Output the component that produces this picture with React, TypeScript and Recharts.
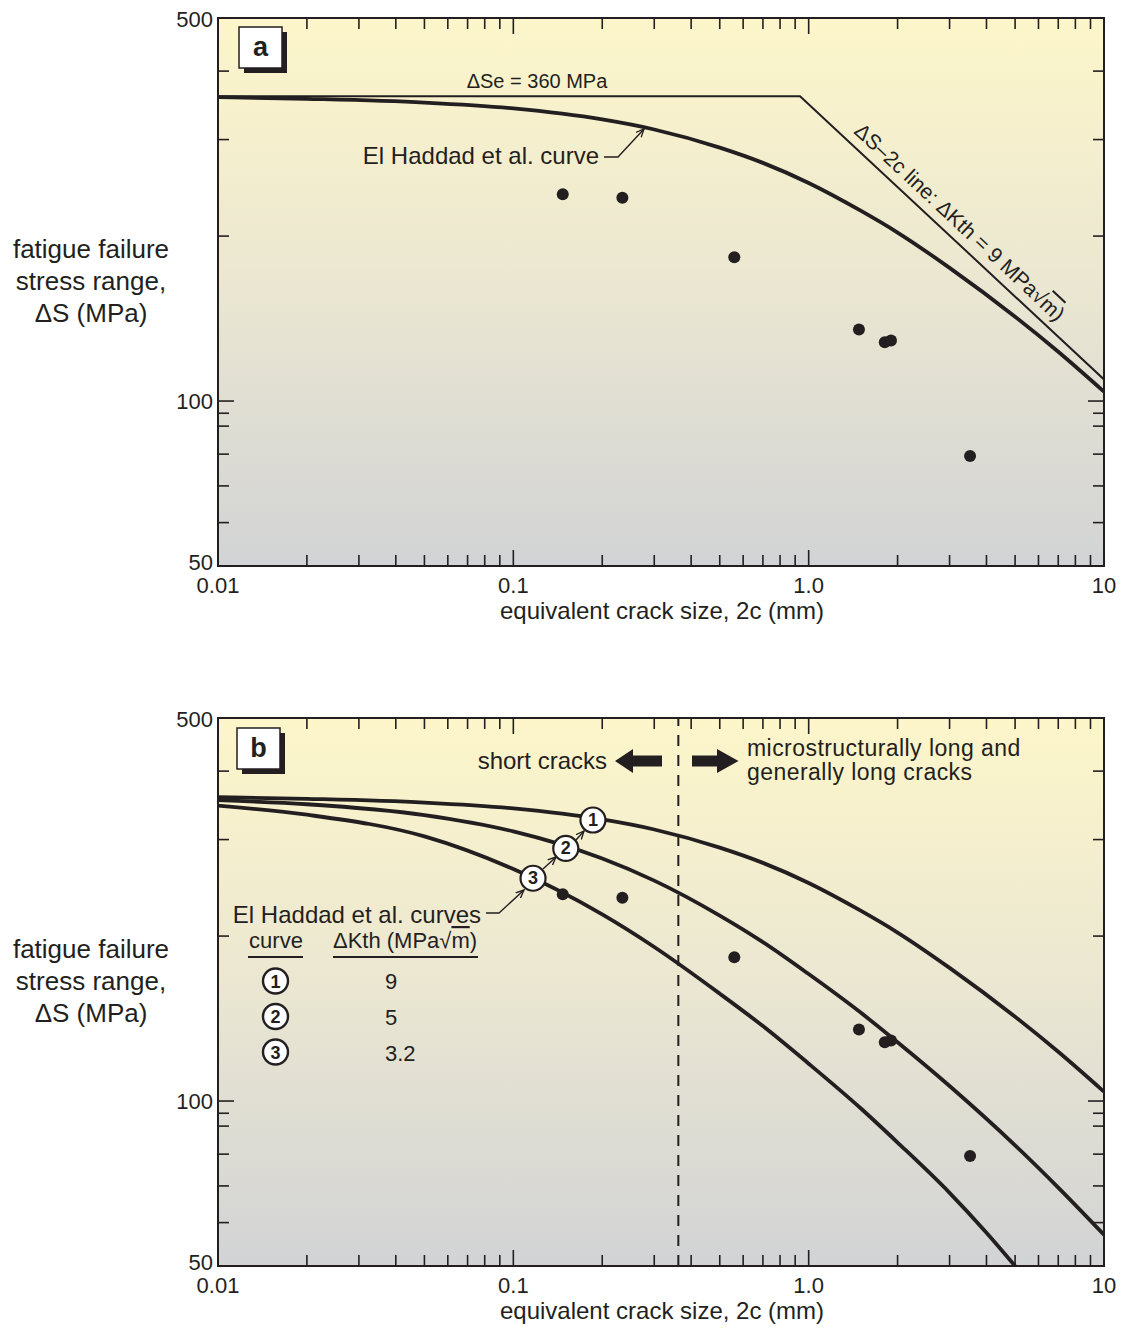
import React from "react";
import {
  CartesianGrid,
  ComposedChart,
  Line,
  ReferenceLine,
  Scatter,
  XAxis,
  YAxis,
} from "recharts";

const INK = "#231f20";
const FONT = '"Liberation Sans", Arial, Helvetica, sans-serif';

// measured fatigue failures: equivalent crack size 2c (mm) vs stress range (MPa)
const failures = [
  { c: 0.147, s: 238.5 },
  { c: 0.234, s: 235 },
  { c: 0.56, s: 183 },
  { c: 1.48, s: 135 },
  { c: 1.81, s: 128 },
  { c: 1.9, s: 129 },
  { c: 3.52, s: 79.4 },
];

// fatigue limit 360 MPa and the ΔS–2c line for ΔKth = 9
const limitLine = [
  { c: 0.01, s: 360 },
  { c: 0.935, s: 360 },
  { c: 10, s: 109.5 },
];

// El Haddad et al. curves
const curveK9 = [
  { c: 0.01, s: 358.5 },
  { c: 0.02, s: 356 },
  { c: 0.05, s: 350.5 },
  { c: 0.1, s: 342 },
  { c: 0.2, s: 326.5 },
  { c: 0.3, s: 313 },
  { c: 0.5, s: 290 },
  { c: 0.7, s: 272 },
  { c: 1, s: 250 },
  { c: 1.5, s: 222.5 },
  { c: 2, s: 203 },
  { c: 3, s: 175 },
  { c: 5, s: 142.5 },
  { c: 7, s: 123 },
  { c: 10, s: 104 },
];

const curveK5 = [
  { c: 0.01, s: 354 },
  { c: 0.02, s: 348 },
  { c: 0.05, s: 332.5 },
  { c: 0.1, s: 310.5 },
  { c: 0.2, s: 277 },
  { c: 0.3, s: 252.5 },
  { c: 0.5, s: 218 },
  { c: 0.7, s: 195 },
  { c: 1, s: 170.5 },
  { c: 1.5, s: 145 },
  { c: 2, s: 128 },
  { c: 3, s: 106.5 },
  { c: 5, s: 83 },
  { c: 7, s: 69.5 },
  { c: 10, s: 57 },
];

const curveK32 = [
  { c: 0.01, s: 346 },
  { c: 0.02, s: 333 },
  { c: 0.05, s: 304 },
  { c: 0.1, s: 265 },
  { c: 0.2, s: 219 },
  { c: 0.3, s: 191 },
  { c: 0.5, s: 157 },
  { c: 0.7, s: 137 },
  { c: 1, s: 117 },
  { c: 1.5, s: 97 },
  { c: 2, s: 84 },
  { c: 3, s: 68 },
  { c: 4, s: 57.5 },
  { c: 5, s: 50 },
];

// numbered tags sitting on the curves in panel b
const curveTags = [
  { c: 0.186, s: 325.7, tag: "1" },
  { c: 0.1505, s: 289, tag: "2" },
  { c: 0.1166, s: 255, tag: "3" },
];

const shortLongBoundary = 0.362;

const kthTags = ["1", "2", "3"];
const kthValues = ["9", "5", "3.2"];

const xTicks = [
  0.01, 0.02, 0.03, 0.04, 0.05, 0.06, 0.07, 0.08, 0.09,
  0.1, 0.2, 0.3, 0.4, 0.5, 0.6, 0.7, 0.8, 0.9,
  1, 2, 3, 4, 5, 6, 7, 8, 9, 10,
];
const xMajor = [0.01, 0.1, 1, 10];
const xMajorLabels = ["0.01", "0.1", "1.0", "10"];

const yTicks = [50, 60, 70, 80, 90, 95, 100, 200, 300, 400, 500];
const yMajor = [50, 100, 500];
const yMajorLabels = ["50", "100", "500"];

function BottomTick({ x, y, payload }: any) {
  const i = xMajor.indexOf(payload.value);
  return (
    <g>
      <line x1={x} y1={y} x2={x} y2={y - (i >= 0 ? 16 : 11)} stroke={INK} strokeWidth={1.6} />
      {i >= 0 && (
        <text x={x} y={y + 27} textAnchor="middle" fontSize={22} fill={INK}>
          {xMajorLabels[i]}
        </text>
      )}
    </g>
  );
}

function TopTick({ x, y, payload }: any) {
  const major = xMajor.includes(payload.value);
  return <line x1={x} y1={y} x2={x} y2={y + (major ? 16 : 11)} stroke={INK} strokeWidth={1.6} />;
}

function LeftTick({ x, y, payload }: any) {
  const i = yMajor.indexOf(payload.value);
  const dy = payload.value === 50 ? 4 : payload.value === 500 ? 9 : 8;
  return (
    <g>
      <line x1={x} y1={y} x2={x + (i >= 0 ? 16 : 11)} y2={y} stroke={INK} strokeWidth={1.6} />
      {i >= 0 && (
        <text x={x - 5} y={y + dy} textAnchor="end" fontSize={22} fill={INK}>
          {yMajorLabels[i]}
        </text>
      )}
    </g>
  );
}

function RightTick({ x, y, payload }: any) {
  const major = yMajor.includes(payload.value);
  return <line x1={x} y1={y} x2={x - (major ? 16 : 11)} y2={y} stroke={INK} strokeWidth={1.6} />;
}

const frameLine = { stroke: INK, strokeWidth: 2, strokeLinecap: "square" as const };

// axes are 1px thick so that tick x/y land on the frame itself
function axes() {
  return [
    <XAxis
      key="xb"
      dataKey="c"
      type="number"
      scale="log"
      domain={[0.01, 10]}
      allowDataOverflow
      ticks={xTicks}
      interval={0}
      height={1}
      tickSize={0}
      tickMargin={0}
      tickLine={false}
      axisLine={frameLine}
      tick={(p: any) => <BottomTick {...p} />}
    />,
    <XAxis
      key="xt"
      xAxisId="top"
      orientation="top"
      dataKey="c"
      type="number"
      scale="log"
      domain={[0.01, 10]}
      allowDataOverflow
      ticks={xTicks}
      interval={0}
      height={1}
      tickSize={0}
      tickMargin={0}
      tickLine={false}
      axisLine={frameLine}
      tick={(p: any) => <TopTick {...p} />}
    />,
    <YAxis
      key="yl"
      dataKey="s"
      type="number"
      scale="log"
      domain={[50, 500]}
      allowDataOverflow
      ticks={yTicks}
      interval={0}
      width={1}
      tickSize={0}
      tickMargin={0}
      tickLine={false}
      axisLine={frameLine}
      tick={(p: any) => <LeftTick {...p} />}
    />,
    <YAxis
      key="yr"
      yAxisId="right"
      orientation="right"
      dataKey="s"
      type="number"
      scale="log"
      domain={[50, 500]}
      allowDataOverflow
      ticks={yTicks}
      interval={0}
      width={1}
      tickSize={0}
      tickMargin={0}
      tickLine={false}
      axisLine={frameLine}
      tick={(p: any) => <RightTick {...p} />}
    />,
  ];
}

function defs(id: string) {
  return (
    <defs>
      <linearGradient id={`bg${id}`} x1="0" y1="0" x2="0" y2="1">
        <stop offset="0" stopColor="#fdf6ca" />
        <stop offset="0.45" stopColor="#ece8d1" />
        <stop offset="1" stopColor="#d2d3d5" />
      </linearGradient>
      <marker
        id={`head${id}`}
        viewBox="0 0 10 10"
        refX="9"
        refY="5"
        markerWidth="9"
        markerHeight="9"
        markerUnits="userSpaceOnUse"
        orient="auto"
      >
        <path d="M0,1 L9,5 L0,9" fill="none" stroke={INK} strokeWidth={1.5} />
      </marker>
    </defs>
  );
}

function titles() {
  return (
    <g fill={INK}>
      <text x={91} y={258} textAnchor="middle" fontSize={26}>fatigue failure</text>
      <text x={91} y={290} textAnchor="middle" fontSize={26}>stress range,</text>
      <text x={91} y={322} textAnchor="middle" fontSize={26}>ΔS (MPa)</text>
      <text x={662} y={619} textAnchor="middle" fontSize={24}>
        equivalent crack size, 2c (mm)
      </text>
    </g>
  );
}

function letterBox(x: number, y: number, letter: string) {
  return (
    <g>
      <rect x={x + 5} y={y + 5} width={43} height={41} fill={INK} />
      <rect x={x} y={y} width={43} height={41} fill="#fff" stroke={INK} strokeWidth={1.5} />
      <text x={x + 21.5} y={y + 29} textAnchor="middle" fontSize={27} fontWeight="bold" fill={INK}>
        {letter}
      </text>
    </g>
  );
}

function FailureDot({ cx, cy }: any) {
  return <circle cx={cx} cy={cy} r={6} fill={INK} />;
}

function TagCircle({ cx, cy, payload }: any) {
  return (
    <g>
      <circle cx={cx} cy={cy} r={12.5} fill="#fff" stroke={INK} strokeWidth={2.2} />
      <text x={cx} y={cy + 6} textAnchor="middle" fontSize={18} fontWeight="bold" fill={INK}>
        {payload.tag}
      </text>
    </g>
  );
}

const plotMargin = { top: 17, right: 23, left: 217 };

function PanelA() {
  return (
    <ComposedChart width={1128} height={700} margin={{ ...plotMargin, bottom: 133 }}>
      {defs("A")}
      <CartesianGrid horizontal={false} vertical={false} fill="url(#bgA)" />
      {axes()}
      <Line data={limitLine} dataKey="s" type="linear" stroke={INK} strokeWidth={2} dot={false} isAnimationActive={false} />
      <Line data={curveK9} dataKey="s" type="monotone" stroke={INK} strokeWidth={3.8} dot={false} isAnimationActive={false} />
      <Scatter data={failures} shape={(p: any) => <FailureDot {...p} />} isAnimationActive={false} />
      {letterBox(239, 27, "a")}
      <text x={537} y={88} textAnchor="middle" fontSize={20} fill={INK}>ΔSe = 360 MPa</text>
      <text x={599} y={164} textAnchor="end" fontSize={24} fill={INK}>El Haddad et al. curve</text>
      <polyline points="604,157 618,157 644,129" fill="none" stroke={INK} strokeWidth={1.4} markerEnd="url(#headA)" />
      <text
        transform="translate(960,222) rotate(43)"
        textAnchor="middle"
        dominantBaseline="central"
        fontSize={21}
        fill={INK}
      >
        ΔS–2c line: ΔKth = 9 MPa√<tspan style={{ textDecoration: "overline" }}>m</tspan>)
      </text>
      {titles()}
    </ComposedChart>
  );
}

function PanelB() {
  return (
    <ComposedChart width={1128} height={631} margin={{ ...plotMargin, bottom: 64 }}>
      {defs("B")}
      <CartesianGrid horizontal={false} vertical={false} fill="url(#bgB)" />
      {axes()}
      <ReferenceLine x={shortLongBoundary} stroke={INK} strokeWidth={2} strokeDasharray="11 9" />
      <Line data={curveK9} dataKey="s" type="monotone" stroke={INK} strokeWidth={3.8} dot={false} isAnimationActive={false} />
      <Line data={curveK5} dataKey="s" type="monotone" stroke={INK} strokeWidth={3.8} dot={false} isAnimationActive={false} />
      <Line data={curveK32} dataKey="s" type="monotone" stroke={INK} strokeWidth={3.8} dot={false} isAnimationActive={false} />
      <Scatter data={failures} shape={(p: any) => <FailureDot {...p} />} isAnimationActive={false} />
      <Scatter data={curveTags} shape={(p: any) => <TagCircle {...p} />} isAnimationActive={false} />
      {letterBox(237, 28, "b")}
      <g fill={INK}>
        <text x={607} y={69} textAnchor="end" fontSize={24}>short cracks</text>
        <polygon points="615,61 633,49 633,55.5 662,55.5 662,66.5 633,66.5 633,73" />
        <polygon points="738.5,61 717,49 717,55.5 692,55.5 692,66.5 717,66.5 717,73" />
        <text x={747} y={56} fontSize={23} letterSpacing={0.45}>microstructurally long and</text>
        <text x={747} y={80} fontSize={23} letterSpacing={0.45}>generally long cracks</text>
        <text x={481} y={223} textAnchor="end" fontSize={24}>El Haddad et al. curves</text>
      </g>
      <polyline points="486,213 499,213 524,190" fill="none" stroke={INK} strokeWidth={1.4} markerEnd="url(#headB)" />
      <line x1={543} y1={169} x2={556} y2={157} stroke={INK} strokeWidth={1.4} markerEnd="url(#headB)" />
      <line x1={576} y1={140} x2={584} y2={131} stroke={INK} strokeWidth={1.4} markerEnd="url(#headB)" />
      <g fill={INK}>
        <text x={276} y={248} textAnchor="middle" fontSize={22}>curve</text>
        <text x={405} y={248} textAnchor="middle" fontSize={22}>
          ΔKth (MPa√<tspan style={{ textDecoration: "overline" }}>m</tspan>)
        </text>
      </g>
      <line x1={248} y1={257} x2={303} y2={257} stroke={INK} strokeWidth={2.2} />
      <line x1={333} y1={257} x2={478} y2={257} stroke={INK} strokeWidth={2.2} />
      {kthTags.map((tag, i) => (
        <g key={tag}>
          <circle cx={275.5} cy={281 + i * 35.5} r={12.5} fill="#fff" stroke={INK} strokeWidth={2.4} />
          <text x={275.5} y={287.5 + i * 35.5} textAnchor="middle" fontSize={18} fontWeight="bold" fill={INK}>
            {tag}
          </text>
          <text x={385} y={289 + i * 35.8} fontSize={22} fill={INK}>
            {kthValues[i]}
          </text>
        </g>
      ))}
      {titles()}
    </ComposedChart>
  );
}

export default function App() {
  return (
    <div
      style={{
        position: "absolute",
        left: 0,
        top: 0,
        width: 1128,
        height: 1331,
        overflow: "hidden",
        background: "#fff",
        fontFamily: FONT,
        color: INK,
      }}
    >
      <div style={{ position: "absolute", left: 0, top: 0 }}>
        <PanelA />
      </div>
      <div style={{ position: "absolute", left: 0, top: 700 }}>
        <PanelB />
      </div>
    </div>
  );
}
